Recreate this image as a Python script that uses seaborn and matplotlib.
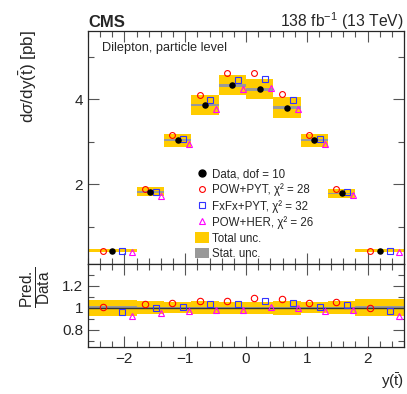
import numpy as np
import pandas as pd
import seaborn as sns
import matplotlib
matplotlib.use('Agg')
import matplotlib.pyplot as plt
from matplotlib.lines import Line2D
from matplotlib.patches import Patch
from matplotlib.ticker import MultipleLocator, FixedLocator

# bins in y(tbar) and measured cross section [pb]
bin_edges = [-2.6, -1.8, -1.35, -0.9, -0.45, 0.0, 0.45, 0.9, 1.35, 1.8, 2.6]
data_xsec = [0.43, 1.82, 3.03, 3.86, 4.33, 4.23, 3.80, 3.03, 1.78, 0.43]

# relative uncertainties of the data
total_unc = [0.075, 0.057, 0.05, 0.06, 0.055, 0.055, 0.065, 0.05, 0.06, 0.08]
stat_unc = [0.015, 0.01, 0.008, 0.008, 0.008, 0.008, 0.008, 0.008, 0.01, 0.015]

# prediction / data
ratio_pow_pyt = [1.003, 1.033, 1.045, 1.064, 1.064, 1.091, 1.082, 1.045, 1.055, 1.0]
ratio_fxfx_pyt = [0.964, 0.994, 1.009, 1.03, 1.03, 1.06, 1.045, 1.009, 1.021, 0.97]
ratio_pow_her = [0.924, 0.948, 0.973, 0.979, 0.979, 1.009, 0.994, 0.97, 0.976, 0.924]

model_names = ['POW+PYT, χ² = 28', 'FxFx+PYT, χ² = 32', 'POW+HER, χ² = 26']
model_colors = ['#ff0000', '#3333ff', '#ff00ff']
model_markers = ['o', 's', '^']
model_offsets = [-0.2, 0.2, 0.4]  # fraction of bin width

sns.set_theme(style='ticks')
plt.rcParams['font.family'] = ['Liberation Sans', 'DejaVu Sans']
plt.rcParams['mathtext.fontset'] = 'custom'
plt.rcParams['mathtext.rm'] = 'Liberation Sans'
plt.rcParams['mathtext.it'] = 'Liberation Sans:italic'
plt.rcParams['mathtext.bf'] = 'Liberation Sans:bold'

edges = np.array(bin_edges)
centers = 0.5 * (edges[:-1] + edges[1:])
widths = np.diff(edges)
xsec = np.array(data_xsec)
tot = np.array(total_unc)
stat = np.array(stat_unc)
ratios = [np.array(ratio_pow_pyt), np.array(ratio_fxfx_pyt), np.array(ratio_pow_her)]

gold = '#ffcc00'
grey = '#999999'

fig = plt.figure(figsize=(4.07, 3.94), dpi=100)
ax = fig.add_axes([0.216, 0.330, 0.777, 0.591])
rax = fig.add_axes([0.216, 0.119, 0.777, 0.211], sharex=ax)

# top panel: uncertainty boxes
ax.bar(edges[:-1], 2 * tot * xsec, width=widths, bottom=xsec * (1 - tot),
       align='edge', color=gold, lw=0, zorder=1)
ax.bar(edges[:-1], 2 * stat * xsec, width=widths, bottom=xsec * (1 - stat),
       align='edge', color=grey, lw=0, zorder=2)

df = pd.DataFrame({'x': centers, 'y': xsec})
sns.scatterplot(data=df, x='x', y='y', ax=ax, color='black', marker='o',
                s=22, edgecolor='black', linewidth=0, zorder=5, legend=False)

for r, name, col, mk, off in zip(ratios, model_names, model_colors, model_markers, model_offsets):
    mdf = pd.DataFrame({'x': centers + off * widths, 'y': r * xsec, 'r': r})
    ax.plot(mdf['x'], mdf['y'], ls='none', marker=mk, ms=4.2, mfc='none',
            mec=col, mew=0.8, zorder=4)
    rax.plot(mdf['x'], mdf['r'], ls='none', marker=mk, ms=4.6, mfc='none',
             mec=col, mew=0.8, zorder=4)

# ratio panel bands
rax.bar(edges[:-1], 2 * tot, width=widths, bottom=1 - tot, align='edge',
        color=gold, lw=0, zorder=1)
rax.bar(edges[:-1], 2 * stat, width=widths, bottom=1 - stat, align='edge',
        color=grey, lw=0, zorder=2)
rax.axhline(1.0, color='#333333', lw=1.0, zorder=3)

ax.set_xlim(-2.6, 2.6)
ax.set_ylim(0.12, 5.6)
rax.set_ylim(0.64, 1.4)

for a in (ax, rax):
    a.tick_params(which='both', direction='in', top=True, right=True,
                  labelsize=11, width=0.8, color='#555555')
    a.tick_params(which='major', length=8)
    a.tick_params(which='minor', length=4.5)
    a.xaxis.set_major_locator(MultipleLocator(1))
    a.xaxis.set_minor_locator(MultipleLocator(0.2))
    for s in a.spines.values():
        s.set_linewidth(0.9)

ax.yaxis.set_major_locator(FixedLocator([2, 4]))
ax.yaxis.set_minor_locator(FixedLocator([1, 3, 5]))
rax.yaxis.set_major_locator(FixedLocator([0.8, 1.0, 1.2]))
rax.yaxis.set_minor_locator(FixedLocator([0.7, 0.9, 1.1, 1.3]))
rax.set_yticklabels(['0.8', '1', '1.2'])
plt.setp(ax.get_xticklabels(), visible=False)

ax.set_ylabel(r'd$\sigma$/dy($\bar{\mathrm{t}}$) [pb]', fontsize=12.3, loc='top')
ax.yaxis.set_label_coords(-0.155, 1.005)
ax.set_xlabel('')
rax.set_ylabel(r'$\frac{\mathrm{Pred.}}{\mathrm{Data}}$', fontsize=16)
rax.yaxis.set_label_coords(-0.11, 0.72)
rax.set_xlabel(r'y($\bar{\mathrm{t}}$)', fontsize=11, loc='right')

fig.text(0.216, 0.932, 'CMS', fontsize=12, fontweight='bold', ha='left', va='baseline')
fig.text(0.993, 0.932, r'138 fb$^{-1}$ (13 TeV)', fontsize=11.3, ha='right', va='baseline')
ax.text(0.045, 0.955, 'Dilepton, particle level', transform=ax.transAxes,
        fontsize=9.2, ha='left', va='top')

handles = [Line2D([], [], ls='none', marker='o', ms=5, color='black')]
for name, col, mk in zip(model_names, model_colors, model_markers):
    handles.append(Line2D([], [], ls='none', marker=mk, ms=4.2, mfc='none', mec=col, mew=0.8))
handles.append(Patch(color=gold, lw=0))
handles.append(Patch(color=grey, lw=0))
labels = ['Data, dof = 10'] + model_names + ['Total unc.', 'Stat. unc.']
ax.legend(handles, labels, loc='upper left', bbox_to_anchor=(0.32, 0.437),
          frameon=False, fontsize=8.3, handlelength=1.2, handleheight=1.0,
          handletextpad=0.3, labelspacing=0.3, borderpad=0)

fig.savefig('out.png', dpi=100)
